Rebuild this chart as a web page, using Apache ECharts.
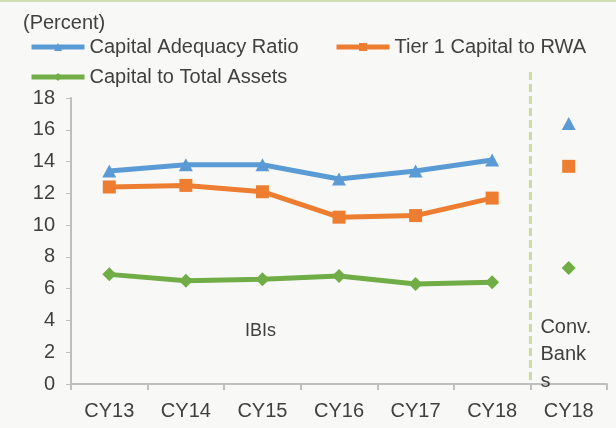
<!DOCTYPE html>
<html>
<head>
<meta charset="utf-8">
<script src="https://cdn.jsdelivr.net/npm/echarts@6/dist/echarts.min.js"></script>
<style>
html,body{margin:0;padding:0;background:#f8f9f7;}
#c{width:616px;height:428px;}
</style>
</head>
<body>
<div id="c"></div>
<script>
const categories = ['CY13', 'CY14', 'CY15', 'CY16', 'CY17', 'CY18', 'CY18'];
const seriesNames = ['Capital Adequacy Ratio', 'Tier 1 Capital to RWA', 'Capital to Total Assets'];
const carIBI = [13.4, 13.8, 13.8, 12.9, 13.4, 14.1];
const tier1IBI = [12.4, 12.5, 12.1, 10.5, 10.6, 11.7];
const ctaIBI = [6.9, 6.5, 6.6, 6.8, 6.3, 6.4];
const carConv = [16.4];
const tier1Conv = [13.7];
const ctaConv = [7.3];
const yTicks = [0, 2, 4, 6, 8, 10, 12, 14, 16, 18];

const FONT = 'Liberation Sans, Arial, sans-serif';
const TXT = '#404040';
const colors = ['#5b9bd5', '#ed7d31', '#70ad47'];
const symbols = ['triangle', 'rect', 'diamond'];
const symSizes = [[14, 13], 13, 14];
const ibi = [carIBI, tier1IBI, ctaIBI];
const conv = [carConv, tier1Conv, ctaConv];

const chart = echarts.init(document.getElementById('c'), null, {renderer: 'canvas'});

const series = [];
for (let i = 0; i < 3; i++) {
  series.push({
    name: seriesNames[i], type: 'line',
    data: ibi[i].concat(['-']),
    symbol: symbols[i], symbolSize: symSizes[i], showSymbol: true,
    lineStyle: {color: colors[i], width: 5},
    itemStyle: {color: colors[i]},
    animation: false, z: 3
  });
}
for (let i = 0; i < 3; i++) {
  const d = categories.slice(0, 6).map(() => '-').concat(conv[i]);
  series.push({
    name: seriesNames[i], type: 'line',
    data: d,
    symbol: symbols[i], symbolSize: symSizes[i], showSymbol: true,
    lineStyle: {color: colors[i], width: 5},
    itemStyle: {color: colors[i]},
    animation: false, z: 3
  });
}

const legendBase = {
  orient: 'horizontal', itemWidth: 53, itemHeight: 10, itemGap: 30, padding: 0,
  lineStyle: {width: 5},
  textStyle: {fontFamily: FONT, fontSize: 20, color: TXT},
  selectedMode: false
};

chart.setOption({
  backgroundColor: '#f8f9f7',
  animation: false,
  title: {text: '(Percent)', left: 18, top: 8,
    textStyle: {fontFamily: FONT, fontSize: 20, fontWeight: 'normal', color: TXT}},
  legend: [
    Object.assign({}, legendBase, {data: [seriesNames[0]], left: 29, top: 37}),
    Object.assign({}, legendBase, {data: [seriesNames[1]], left: 334, top: 37}),
    Object.assign({}, legendBase, {data: [seriesNames[2]], left: 29, top: 67})
  ],
  grid: {left: 71, right: 9, top: 98, bottom: 44, containLabel: false},
  xAxis: {
    type: 'category', data: categories, boundaryGap: true,
    axisLine: {show: true, lineStyle: {color: '#bfbfbf', width: 2}},
    axisTick: {show: true, length: 6, lineStyle: {color: '#bfbfbf', width: 2}},
    axisLabel: {fontFamily: FONT, fontSize: 20, color: TXT, margin: 17, interval: 0},
    splitLine: {show: false}
  },
  yAxis: {
    type: 'value', min: yTicks[0], max: yTicks[yTicks.length - 1], interval: yTicks[1] - yTicks[0],
    axisLine: {show: true, lineStyle: {color: '#bfbfbf', width: 2}},
    axisTick: {show: true, length: 5, lineStyle: {color: '#bfbfbf', width: 1}},
    axisLabel: {fontFamily: FONT, fontSize: 20, color: TXT, margin: 16},
    splitLine: {show: false}
  },
  series: series
});

// annotations positioned through the chart's own scales
const px = i => chart.convertToPixel({xAxisIndex: 0}, i);
const py = v => chart.convertToPixel({yAxisIndex: 0}, v);
const boundaryX = (px(5) + px(6)) / 2;
const y0 = py(0);
const yTop = py(18) - 26;
chart.setOption({
  graphic: [
    {type: 'rect', shape: {x: 0, y: 0, width: 616, height: 2}, style: {fill: '#cfe0b4'}, silent: true},
    {type: 'line', shape: {x1: boundaryX, y1: yTop, x2: boundaryX, y2: y0},
     style: {stroke: '#c9dca6', lineWidth: 3, lineDash: [8, 4]}, z: 1, silent: true},
    {type: 'text', x: px(2) - 2, y: py(3.35),
     style: {text: 'IBIs', font: '18px ' + FONT, fill: TXT, textAlign: 'center', textVerticalAlign: 'middle'}, z: 5},
    {type: 'text', x: boundaryX + 10, y: py(3.58) - 13.5,
     style: {text: 'Conv.\nBank\ns', font: '20px ' + FONT, lineHeight: 27, fill: TXT, textAlign: 'left', textVerticalAlign: 'top'}, z: 5}
  ]
});
</script>
</body>
</html>
